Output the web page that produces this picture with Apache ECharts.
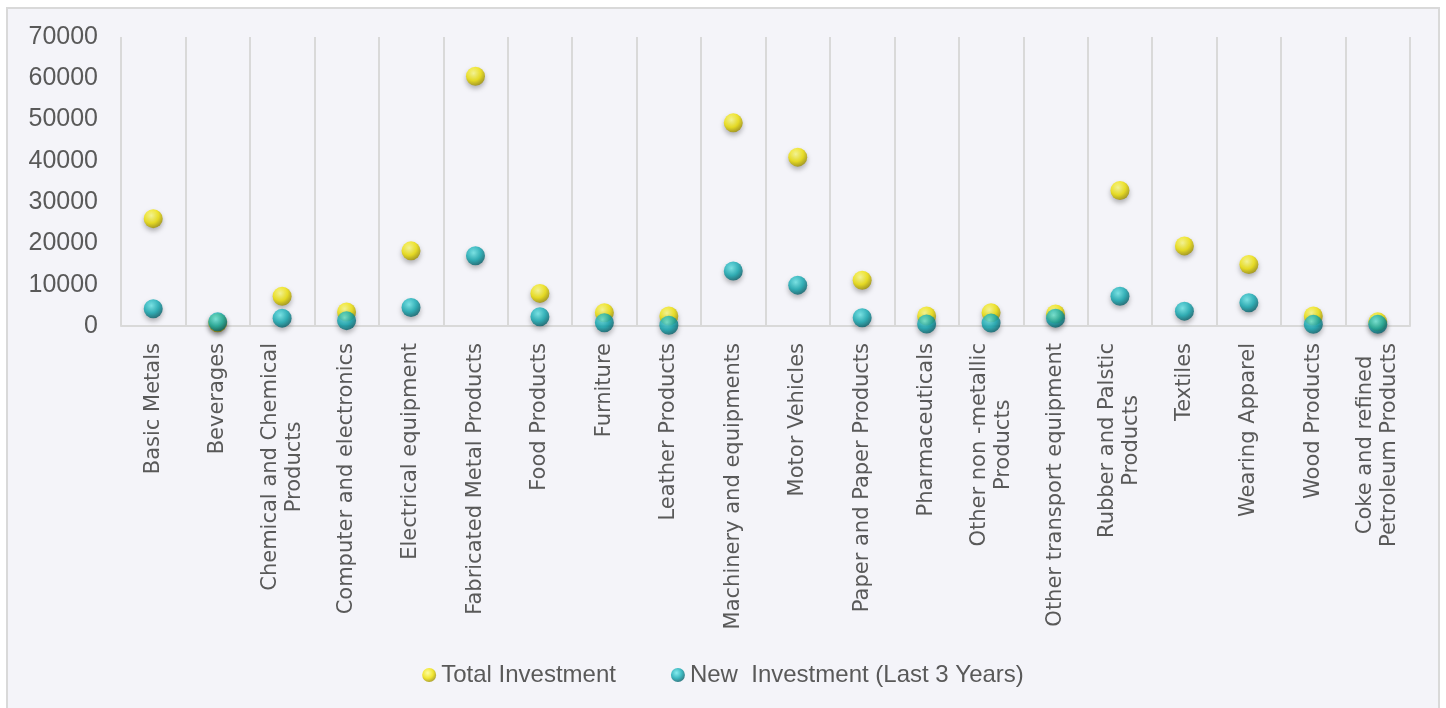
<!DOCTYPE html>
<html>
<head>
<meta charset="utf-8">
<title>Investment by Industry</title>
<script src="https://cdn.jsdelivr.net/npm/echarts@6/dist/echarts.min.js"></script>
<style>
  html, body { margin: 0; padding: 0; background: #ffffff; }
  #frame {
    position: absolute; left: 6px; top: 7px; width: 1430px; height: 720px;
    background: #f4f4f9; border: 2px solid #d9d9d9;
  }
  #chart { position: absolute; left: 0; top: 0; width: 1446px; height: 708px; }
</style>
</head>
<body>
<div id="frame"></div>
<div id="chart"></div>
<script>
var categories = [
  'Basic Metals', 'Beverages', 'Chemical and Chemical\nProducts', 'Computer and electronics',
  'Electrical equipment', 'Fabricated Metal Products', 'Food Products', 'Furniture',
  'Leather Products', 'Machinery and equipments', 'Motor Vehicles', 'Paper and Paper Products',
  'Pharmaceuticals', 'Other non -metallic\nProducts', 'Other transport equipment',
  'Rubber and Palstic\nProducts', 'Textiles', 'Wearing Apparel', 'Wood Products',
  'Coke and refined\nPetroleum Products'
]
var totalInvestment = [26000, 800, 7200, 3400, 18200, 60500, 7900, 3200, 2400, 49200,
  40900, 11100, 2400, 3200, 2900, 32800, 19400, 14900, 2400, 1000]
var newInvestment = [4200, 1000, 1900, 1300, 4500, 17000, 2250, 800, 200, 13300,
  9900, 2000, 500, 700, 1900, 7200, 3600, 5650, 400, 400]
var yTicks = { min: 0, max: 70000, interval: 10000 }

function sphere(light, mid, dark) {
  return {
    type: 'radial', x: 0.4, y: 0.35, r: 0.7,
    colorStops: [
      { offset: 0, color: light },
      { offset: 0.55, color: mid },
      { offset: 1, color: dark }
    ]
  }
}

var yellowBall = sphere('#ffff8a', '#f0e200', '#948600')
var tealBall = sphere('#6aeaec', '#0fa9b2', '#045660')

var chart = echarts.init(document.getElementById('chart'))

chart.setOption({
  backgroundColor: 'transparent',
  animation: false,
  grid: { left: 121, right: 36, top: 37, bottom: 382 },
  legend: {
    bottom: 16,
    left: 'center',
    itemGap: 55,
    itemWidth: 14,
    itemHeight: 14,
    textStyle: { fontFamily: 'Liberation Sans', fontSize: 24, color: '#595959' },
    data: [
      { name: 'Total Investment', icon: 'circle', itemStyle: { color: yellowBall } },
      { name: 'New  Investment (Last 3 Years)', icon: 'circle', itemStyle: { color: tealBall } }
    ]
  },
  xAxis: {
    type: 'category',
    data: categories,
    boundaryGap: true,
    axisLine: { lineStyle: { color: '#d9d9d9', width: 2 } },
    axisTick: { show: false },
    splitLine: { show: true, lineStyle: { color: '#d9d9d9', width: 2 } },
    axisLabel: {
      interval: 0,
      rotate: 90,
      margin: 17,
      color: '#595959',
      fontFamily: 'DejaVu Sans',
      fontSize: 21,
      formatter: function (v) {
        return v.split('\n').map(function (s) { return '{c|' + s + '}' }).join('\n')
      },
      rich: {
        c: { align: 'center', fontFamily: 'DejaVu Sans', fontSize: 21, color: '#595959', lineHeight: 24 }
      }
    }
  },
  yAxis: {
    type: 'value',
    min: yTicks.min,
    max: yTicks.max,
    interval: yTicks.interval,
    axisLine: { show: false },
    axisTick: { show: false },
    splitLine: { show: false },
    axisLabel: {
      margin: 23,
      color: '#595959',
      fontFamily: 'Liberation Sans',
      fontSize: 25,
      formatter: function (v) { return String(v) }
    }
  },
  series: [
    {
      name: 'Total Investment',
      type: 'scatter',
      symbol: 'circle',
      symbolSize: 19,
      data: totalInvestment,
      itemStyle: {
        color: yellowBall,
        shadowColor: 'rgba(0,0,0,0.35)',
        shadowBlur: 5,
        shadowOffsetY: 3
      }
    },
    {
      name: 'New  Investment (Last 3 Years)',
      type: 'scatter',
      symbol: 'circle',
      symbolSize: 19,
      data: newInvestment,
      itemStyle: {
        color: tealBall,
        shadowColor: 'rgba(0,0,0,0.35)',
        shadowBlur: 5,
        shadowOffsetY: 3
      }
    }
  ]
})
</script>
</body>
</html>
